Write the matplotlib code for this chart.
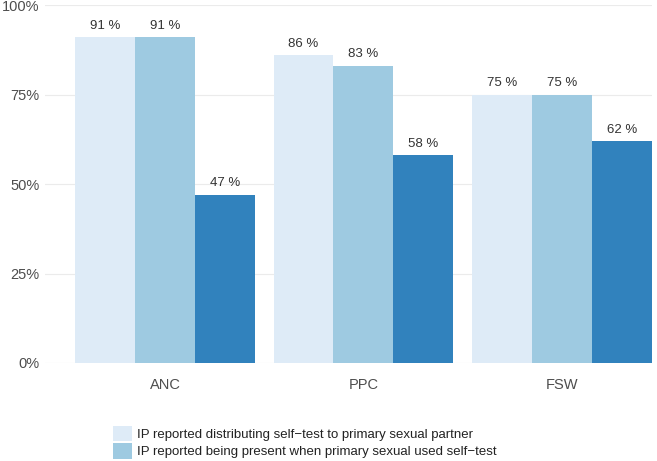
import numpy as np
from matplotlib import pyplot as plt
from matplotlib.patches import Patch

plt.rcParams['font.family'] = ['Liberation Sans', 'DejaVu Sans']

groups = ['ANC', 'PPC', 'FSW']
distributed = [91, 86, 75]   # IP reported distributing self-test to primary sexual partner
present = [91, 83, 75]       # IP reported being present when primary sexual used self-test
third = [47, 58, 62]         # third series (legend entry cut off in the picture)

series = [distributed, present, third]
colors = ['#deebf7', '#9ecae1', '#3182bd']
legend_labels = ['IP reported distributing self\u2212test to primary sexual partner',
                 'IP reported being present when primary sexual used self\u2212test']

fig = plt.figure(figsize=(6.57, 4.61), dpi=100)
ax = fig.add_axes([0.0685, 0.2126, 0.924, 0.7764])

x = np.arange(len(groups))
w = 0.302
for i, vals in enumerate(series):
    pos = x + (i - 1) * w
    ax.bar(pos, vals, width=w, color=colors[i], zorder=2)
    for p, v in zip(pos, vals):
        ax.annotate(f'{v} %', (p, v), xytext=(0, 4), textcoords='offset points',
                    ha='center', va='bottom', fontsize=9.5, color='#333333')

ax.set_xlim(-0.605, 2.455)
ax.set_ylim(0, 100)
ax.set_yticks([0, 25, 50, 75, 100])
ax.set_yticklabels(['0%', '25%', '50%', '75%', '100%'])
ax.set_xticks(x)
ax.set_xticklabels(groups)
ax.tick_params(length=0, labelsize=10.5, colors='#4d4d4d', pad=4)
ax.tick_params(axis='x', pad=11)
ax.grid(axis='y', color='#ebebeb', linewidth=0.8, zorder=0)
for s in ax.spines.values():
    s.set_visible(False)

handles = [Patch(facecolor=colors[0]), Patch(facecolor=colors[1])]
fig.legend(handles, legend_labels, loc='upper left', bbox_to_anchor=(0.172, 0.077),
           frameon=False, fontsize=9.5, handlelength=1.45, handleheight=1.45,
           handletextpad=0.4, labelspacing=0.15, borderpad=0, borderaxespad=0,
           labelcolor='#222222')

fig.savefig('out.png', dpi=100)
